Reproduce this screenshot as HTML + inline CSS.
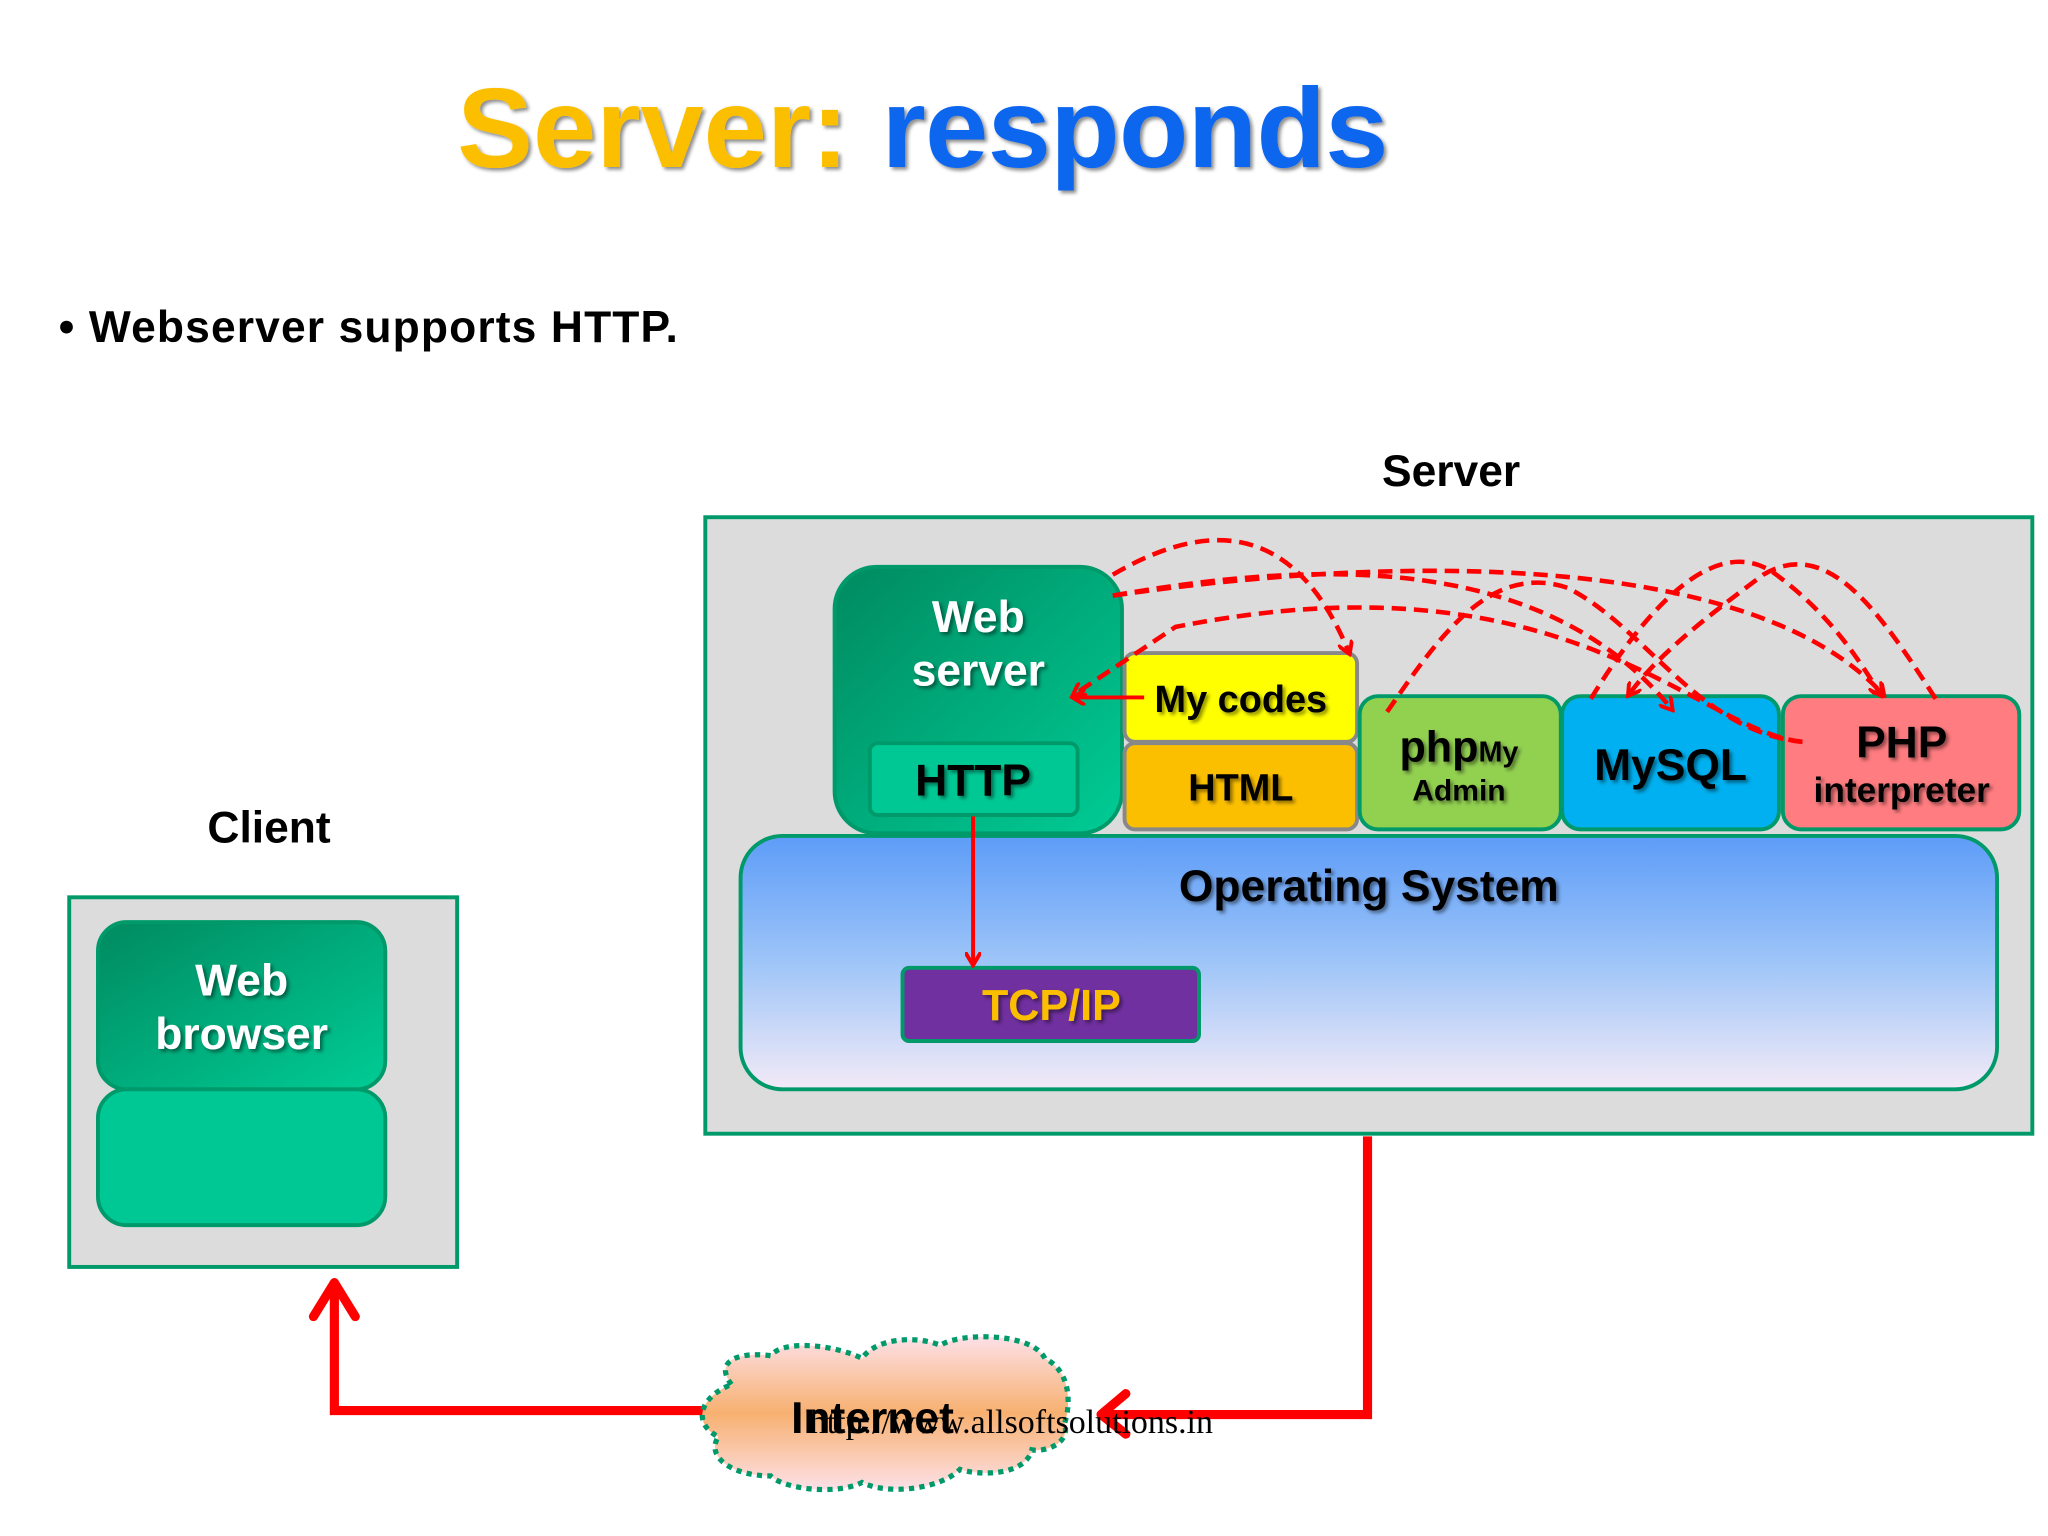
<!DOCTYPE html>
<html><head><meta charset="utf-8"><style>
html,body{margin:0;padding:0;background:#fff;width:2048px;height:1536px;overflow:hidden}
svg{display:block}
text{font-family:"Liberation Sans",sans-serif;font-weight:bold}
text.url{font-family:"Liberation Serif",serif;font-weight:normal}
</style></head><body>
<svg width="2048" height="1536" viewBox="0 0 1568 1176" xmlns="http://www.w3.org/2000/svg">
<defs>
<linearGradient id="gw" x1="0" y1="0" x2="1" y2="1"><stop offset="0" stop-color="#008a60"/><stop offset="1" stop-color="#00cc95"/></linearGradient>
<linearGradient id="os" x1="0" y1="0" x2="0" y2="1"><stop offset="0" stop-color="#5d9cf8"/><stop offset="0.5" stop-color="#9ec5f8"/><stop offset="1" stop-color="#f3eaf7"/></linearGradient>
<linearGradient id="cl" x1="0" y1="0" x2="0" y2="1"><stop offset="0" stop-color="#fde0e8"/><stop offset="0.5" stop-color="#f7b070"/><stop offset="1" stop-color="#fde0e8"/></linearGradient>
<filter id="sh"><feDropShadow dx="2" dy="2" stdDeviation="1.5" flood-color="#000" flood-opacity="0.45"/></filter>
<marker id="ah" markerWidth="12" markerHeight="12" refX="9" refY="6" orient="auto" markerUnits="userSpaceOnUse"><path d="M0,0 L10,6 L0,12" fill="none" stroke="#f00" stroke-width="3"/></marker>
</defs>

<text x="350" y="128" font-size="87" fill="#fcbf00" filter="url(#sh)" textLength="300">Server:</text>
<text x="675" y="128" font-size="87" fill="#1166ee" filter="url(#sh)" textLength="388">responds</text>
<text x="45" y="262" font-size="34" fill="#000" textLength="474">• Webserver supports HTTP.</text>

<text x="1111" y="372" font-size="34" fill="#000" text-anchor="middle">Server</text>
<text x="206" y="645" font-size="34" fill="#000" text-anchor="middle">Client</text>

<rect x="540" y="396" width="1016" height="472" fill="#dcdcdc" stroke="#00996a" stroke-width="3"/>
<rect x="567" y="640" width="962" height="194" rx="32" fill="url(#os)" stroke="#00996a" stroke-width="3"/>
<text x="1048" y="690" font-size="34" fill="#000" text-anchor="middle" filter="url(#sh)">Operating System</text>
<rect x="691" y="741" width="227" height="56" rx="5" fill="#7030a0" stroke="#00996a" stroke-width="3"/>
<text x="805" y="781" font-size="33" fill="#fcbf00" text-anchor="middle" filter="url(#sh)">TCP/IP</text>

<rect x="639" y="434" width="220" height="204" rx="32" fill="url(#gw)" stroke="#00996a" stroke-width="3"/>
<text x="749" y="484" font-size="34" fill="#fff" text-anchor="middle" filter="url(#sh)">Web</text>
<text x="749" y="525" font-size="34" fill="#fff" text-anchor="middle" filter="url(#sh)">server</text>
<rect x="666" y="569" width="159" height="55" rx="6" fill="#00c894" stroke="#00996a" stroke-width="3"/>
<text x="745" y="609" font-size="34" fill="#000" text-anchor="middle" filter="url(#sh)">HTTP</text>

<rect x="861" y="500" width="178" height="68" rx="8" fill="#ffff00" stroke="#888" stroke-width="3"/>
<text x="950" y="545" font-size="29" fill="#000" text-anchor="middle" filter="url(#sh)">My codes</text>
<rect x="861" y="569" width="178" height="66" rx="8" fill="#fcbf00" stroke="#888" stroke-width="3"/>
<text x="950" y="613" font-size="29" fill="#000" text-anchor="middle" filter="url(#sh)">HTML</text>

<rect x="1041" y="533" width="154" height="102" rx="14" fill="#92d050" stroke="#00996a" stroke-width="3"/>
<text x="1117" y="583" font-size="33" fill="#000" text-anchor="middle" filter="url(#sh)">php<tspan font-size="22">My</tspan></text>
<text x="1117" y="613" font-size="23" fill="#000" text-anchor="middle" filter="url(#sh)">Admin</text>

<rect x="1196" y="533" width="166" height="102" rx="14" fill="#00b0f0" stroke="#00996a" stroke-width="3"/>
<text x="1279" y="597" font-size="34" fill="#000" text-anchor="middle" filter="url(#sh)">MySQL</text>

<rect x="1365" y="533" width="181" height="102" rx="14" fill="#ff7c80" stroke="#00996a" stroke-width="3"/>
<text x="1456" y="580" font-size="34" fill="#000" text-anchor="middle" filter="url(#sh)">PHP</text>
<text x="1456" y="614" font-size="27" fill="#000" text-anchor="middle" filter="url(#sh)">interpreter</text>

<g fill="none" stroke="#f00" stroke-width="3.5" stroke-dasharray="11,6">
<path d="M852,440 C920,400 990,395 1033,500" marker-end="url(#ah)"/>
<path d="M852,456 C1000,430 1180,420 1280,543" marker-end="url(#ah)"/>
<path d="M852,456 C1100,420 1350,430 1442,532" marker-end="url(#ah)"/>
<path d="M1062,545 C1100,490 1140,430 1200,450 C1260,480 1300,560 1380,568"/>
<path d="M1380,568 C1300,560 1200,420 900,480 L822,532" marker-end="url(#ah)"/>
<path d="M1218,535 C1270,450 1320,410 1360,440 C1400,470 1420,500 1440,532" marker-end="url(#ah)"/>
<path d="M1482,535 C1440,470 1400,410 1350,440 C1310,470 1270,500 1247,532" marker-end="url(#ah)"/>
</g>
<path d="M876,534 L822,534" stroke="#f00" stroke-width="3" fill="none" marker-end="url(#ah)"/>
<path d="M745,625 L745,738" stroke="#f00" stroke-width="3" fill="none" marker-end="url(#ah)"/>

<rect x="53" y="687" width="297" height="283" fill="#dcdcdc" stroke="#00996a" stroke-width="3"/>
<rect x="75" y="706" width="220" height="128" rx="22" fill="url(#gw)" stroke="#00996a" stroke-width="3"/>
<rect x="75" y="834" width="220" height="104" rx="22" fill="#00c894" stroke="#00996a" stroke-width="3"/>
<text x="185" y="762" font-size="34" fill="#fff" text-anchor="middle" filter="url(#sh)">Web</text>
<text x="185" y="803" font-size="34" fill="#fff" text-anchor="middle" filter="url(#sh)">browser</text>

<path d="M1047,870 L1047,1083 L845,1083" stroke="#f00" stroke-width="7" fill="none"/>
<path d="M862,1067 L843,1083 L862,1098" stroke="#f00" stroke-width="7" fill="none" stroke-linecap="round" stroke-linejoin="round"/>
<path d="M540,1080 L256,1080 L256,985" stroke="#f00" stroke-width="7" fill="none"/>
<path d="M240,1008 L256,982 L272,1008" stroke="#f00" stroke-width="7" fill="none" stroke-linecap="round" stroke-linejoin="round"/>

<path d="M560,1060 C545,1040 570,1035 590,1038 C600,1025 640,1030 660,1040 C670,1025 700,1022 720,1030 C735,1020 790,1020 800,1040 C820,1050 820,1075 815,1090 C820,1105 800,1112 790,1110 C785,1130 750,1130 735,1125 C720,1140 680,1145 660,1135 C640,1145 600,1140 590,1130 C560,1130 540,1115 550,1100 C530,1090 535,1070 560,1060 Z" fill="url(#cl)" stroke="#00996a" stroke-width="4" stroke-dasharray="4,4"/>
<text x="668" y="1097" font-size="34" fill="#000" text-anchor="middle">Internet</text>
<text class="url" x="620" y="1097" font-size="26" fill="#000">http://www.allsoftsolutions.in</text>
</svg>
</body></html>
